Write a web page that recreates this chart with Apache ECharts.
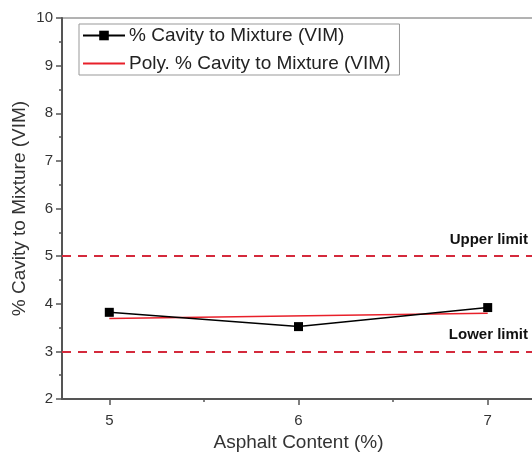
<!DOCTYPE html>
<html><head><meta charset="utf-8">
<script src="https://cdn.jsdelivr.net/npm/echarts@6/dist/echarts.min.js"></script>
<style>html,body{margin:0;padding:0;background:#fff}#c{width:532px;height:457px}</style>
</head><body><div id="c"></div>
<script>
const asphalt = [5, 6, 7];
const vim = [3.82, 3.52, 3.92];
const fitX = [5, 7];
const fitY = [3.69, 3.80];
const limits = [5, 3];
const limitNames = ['Upper limit', 'Lower limit'];
const xTicks = [5, 6, 7];
const xMinorTicks = [5.5, 6.5];

const chart = echarts.init(document.getElementById('c'));
const font = 'Liberation Sans, Arial, sans-serif';
chart.setOption({
  animation: false,
  backgroundColor: '#fff',
  grid: { left: 62, top: 18, width: 473, height: 381, containLabel: false, outerBoundsMode: 'none', show: true, borderColor: '#666', borderWidth: 1, backgroundColor: 'transparent' },
  legend: {
    orient: 'vertical', left: 79, top: 24, padding: [2, 9, 2, 3],
    borderColor: '#999', borderWidth: 1,
    itemWidth: 42, itemHeight: 12, itemGap: 9,
    textStyle: { fontFamily: font, fontSize: 19, color: '#222', padding: [0,0,0,-1] },
    data: [
      { name: '% Cavity to Mixture (VIM)' },
      { name: 'Poly. % Cavity to Mixture (VIM)', itemStyle: { color: 'transparent', borderWidth: 0 } }
    ]
  },
  xAxis: [{
    type: 'value', min: 4.75, max: 7.25,
    name: 'Asphalt Content (%)', nameLocation: 'middle', nameGap: 34,
    nameTextStyle: { fontFamily: font, fontSize: 19, color: '#333' },
    axisLine: { show: true, lineStyle: { color: '#555', width: 2 } },
    axisTick: { show: true, customValues: xTicks, length: 6, lineStyle: { color: '#555', width: 1.5 } },
    axisLabel: { customValues: xTicks, fontFamily: font, fontSize: 15, color: '#333', margin: 14 },
    splitLine: { show: false }
  }, {
    type: 'value', min: 4.75, max: 7.25, position: 'bottom',
    axisLine: { show: false },
    axisTick: { show: true, customValues: xMinorTicks, length: 3, lineStyle: { color: '#555', width: 1.5 } },
    axisLabel: { show: false },
    splitLine: { show: false }
  }],
  yAxis: {
    type: 'value', min: 2, max: 10, interval: 1,
    name: '% Cavity to Mixture (VIM)', nameLocation: 'middle', nameGap: 33, nameMoveOverlap: false,
    nameTextStyle: { fontFamily: font, fontSize: 19, color: '#333' },
    axisLine: { show: true, lineStyle: { color: '#555', width: 2 } },
    axisTick: { show: true, length: 6, lineStyle: { color: '#555', width: 1.5 } },
    minorTick: { show: true, splitNumber: 2, length: 3, lineStyle: { color: '#555', width: 1.5 } },
    axisLabel: { fontFamily: font, fontSize: 15, color: '#333', margin: 9 },
    splitLine: { show: false }
  },
  series: [{
    name: '% Cavity to Mixture (VIM)', type: 'line',
    data: asphalt.map((x, i) => [x, vim[i]]),
    symbol: 'rect', symbolSize: 9, z: 4,
    itemStyle: { color: '#000' },
    lineStyle: { color: '#000', width: 1.5 },
    markLine: {
      silent: true, symbol: 'none',
      lineStyle: { color: '#d42a3c', type: [9, 7], width: 2 },
      label: { position: 'insideEndTop', fontFamily: font, fontSize: 15, fontWeight: 'bold', color: '#111', distance: [7, 9] },
      data: limits.map((v, i) => ({ yAxis: v, label: { formatter: limitNames[i] } }))
    }
  }, {
    name: 'Poly. % Cavity to Mixture (VIM)', type: 'line',
    data: fitX.map((x, i) => [x, fitY[i]]),
    symbol: 'none', z: 3,
    itemStyle: { color: '#e8202a' },
    lineStyle: { color: '#e8202a', width: 1.5 }
  }]
});
</script></body></html>
